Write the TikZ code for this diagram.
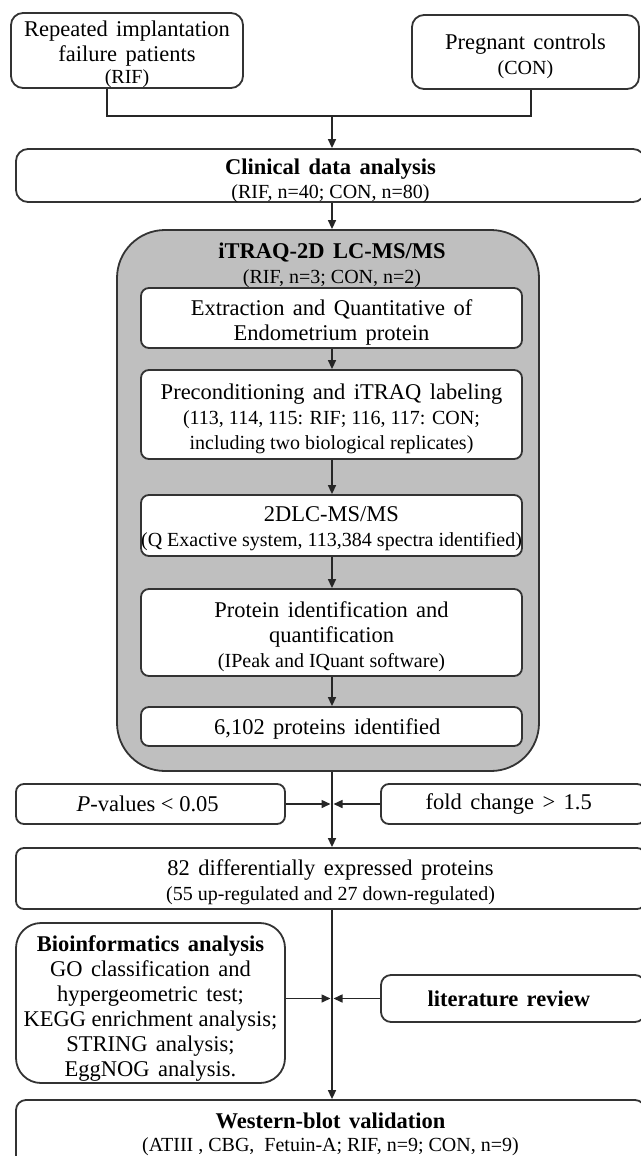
\documentclass[tikz,border=0pt]{standalone}
\usepackage{fontspec}
\setmainfont{Liberation Serif}
\newfontfamily\widefont[WordSpace=1.5]{Liberation Serif}
\usetikzlibrary{arrows.meta, positioning, calc}
\newcommand{\bigtxt}{\widefont\fontsize{22.5}{25}\selectfont}
\newcommand{\smtxt}{\rmfamily\fontsize{20}{24}\selectfont}
%% lower one line of text without changing the box size
\newcommand{\dn}[2][4pt]{\raisebox{-#1}[\height][\depth]{#2}}
\tikzset{
  myarr/.style  = {-{Triangle[length=9pt, width=8pt]}, line width=1.5pt, draw=black!85},
  plainln/.style = {line width=1.5pt, draw=black!85},
  %% Box presets
  obox/.style = {draw=black!80, fill=white, line width=1.8pt, rounded corners=12pt, align=center, inner sep=0pt, font=\bigtxt},
  ibox/.style = {draw=black!80, fill=white, line width=1.8pt, rounded corners=8pt,  align=center, inner sep=0pt, font=\bigtxt},
  gbox/.style = {draw=black!80, fill=black!25, line width=1.8pt, rounded corners=48pt, inner sep=0pt},
}

\begin{document}
\begin{tikzpicture}[x=1pt, y=-1pt]
\useasboundingbox (0,0) rectangle (640,1156);

%% main vertical line
\coordinate (spine) at (332,0);

%% ---- (1) Patient groups ----
\node[obox, minimum width=232pt, minimum height=75pt] (rif) at (127,50.5) {
  \dn[5pt]{Repeated implantation}\\
  \dn[5pt]{failure patients}\\
  \dn[2pt]{\smtxt (RIF)}
};
\node[obox, minimum width=227pt, minimum height=74pt] (con) at (525.5,52) {
  \dn{Pregnant controls}\\
  \dn{\smtxt (CON)}
};

%% ---- (2) Clinical data ----
\node[obox, minimum width=629pt, minimum height=53pt] (clin) at (330.5,175.5) {
  \dn[6pt]{\textbf{Clinical data analysis}}\\
  \dn[5pt]{\smtxt (RIF, n=40; CON, n=80)}
};

\coordinate (join1) at (332,116);
\draw[plainln] ([xshift=-20pt]rif.south) |- (join1) -| ([xshift=5.5pt]con.south);
\draw[myarr] (join1) -- (join1 |- clin.north);

%% ---- (3) iTRAQ block ----
\node[gbox, minimum width=422pt, minimum height=541pt] (grey) at (328,500.5) {};
\draw[myarr] (clin.south -| spine) -- (grey.north -| spine);

\node[align=center, font=\bigtxt] (gtitle) at (332,265) {
  \textbf{iTRAQ-2D LC-MS/MS}\\
  {\smtxt (RIF, n=3; CON, n=2)}
};

\node[ibox, minimum width=381pt, minimum height=60pt] (ext) at (331.5,318) {
  \dn{Extraction and Quantitative of}\\
  \dn{Endometrium protein}
};
\node[ibox, minimum width=381pt, minimum height=89pt] (pre) at (331.5,414.5) {
  \dn{Preconditioning and iTRAQ labeling}\\
  \dn{\smtxt (113, 114, 115: RIF; 116, 117: CON;}\\
  \dn{\smtxt including two biological replicates)}
};
\node[ibox, minimum width=381pt, minimum height=61pt] (lc) at (331.5,525.5) {
  \dn[3pt]{2DLC-MS/MS}\\
  \dn[3pt]{\smtxt (Q Exactive system, 113,384 spectra identified)}
};
\node[ibox, minimum width=381pt, minimum height=87pt] (pid) at (331.5,632.5) {
  \dn{Protein identification and}\\
  \dn{quantification}\\
  \dn{\smtxt (IPeak and IQuant software)}
};
\node[ibox, minimum width=381pt, minimum height=39pt] (ident) at (331.5,726.5) {
  \dn[2pt]{6,102 proteins identified}
};

\draw[myarr] (ext.south -| spine) -- (pre.north -| spine);
\draw[myarr] (pre.south -| spine) -- (lc.north -| spine);
\draw[myarr] (lc.south -| spine)  -- (pid.north -| spine);
\draw[myarr] (pid.south -| spine) -- (ident.north -| spine);

%% ---- (4) Filters ----
\node[ibox, minimum width=269pt, minimum height=40pt] (pval) at (150.5,804) {
  \rmfamily\textit{P}-values < 0.05
};
\node[ibox, minimum width=264pt, minimum height=40pt] (fold) at (513,804) {
  fold change > 1.5
};
\node[ibox, minimum width=629pt, minimum height=61pt] (degs) at (330.5,878.5) {
  \dn{82 differentially expressed proteins}\\
  \dn{\smtxt (55 up-regulated and 27 down-regulated)}
};

\draw[myarr] (grey.south -| spine) -- (degs.north -| spine);
\draw[myarr, shorten >=1.5pt] (pval.east) -- (pval.east -| spine);
\draw[myarr, shorten >=1.5pt] (fold.west) -- (fold.west -| spine);

%% ---- (5) Analysis and validation ----
\node[obox, rounded corners=25pt, minimum width=269pt, minimum height=160pt] (bio) at (150.5,1003) {
  \dn[5pt]{\textbf{Bioinformatics analysis}}\\
  \dn[5pt]{GO classification and}\\
  \dn[5pt]{hypergeometric test;}\\
  \dn[5pt]{\rmfamily KEGG enrichment analysis;}\\
  \dn[5pt]{STRING analysis;}\\
  \dn[5pt]{EggNOG analysis.}
};
\node[ibox, rounded corners=10pt, minimum width=264pt, minimum height=47pt] (lit) at (513,998.5) {
  \textbf{literature review}
};
\node[ibox, rounded corners=10pt, minimum width=629pt, minimum height=66pt] (west) at (330.5,1133) {
  \dn[2pt]{\textbf{Western-blot validation}}\\
  \dn[0pt]{\smtxt (ATIII , CBG,\ \ Fetuin-A; RIF, n=9; CON, n=9)}
};

\draw[myarr] (degs.south -| spine) -- (west.north -| spine);
\draw[myarr, shorten >=1.5pt] (bio.east |- lit) -- (lit -| spine);
\draw[myarr, shorten >=1.5pt] (lit.west) -- (lit.west -| spine);

\end{tikzpicture}
\end{document}
